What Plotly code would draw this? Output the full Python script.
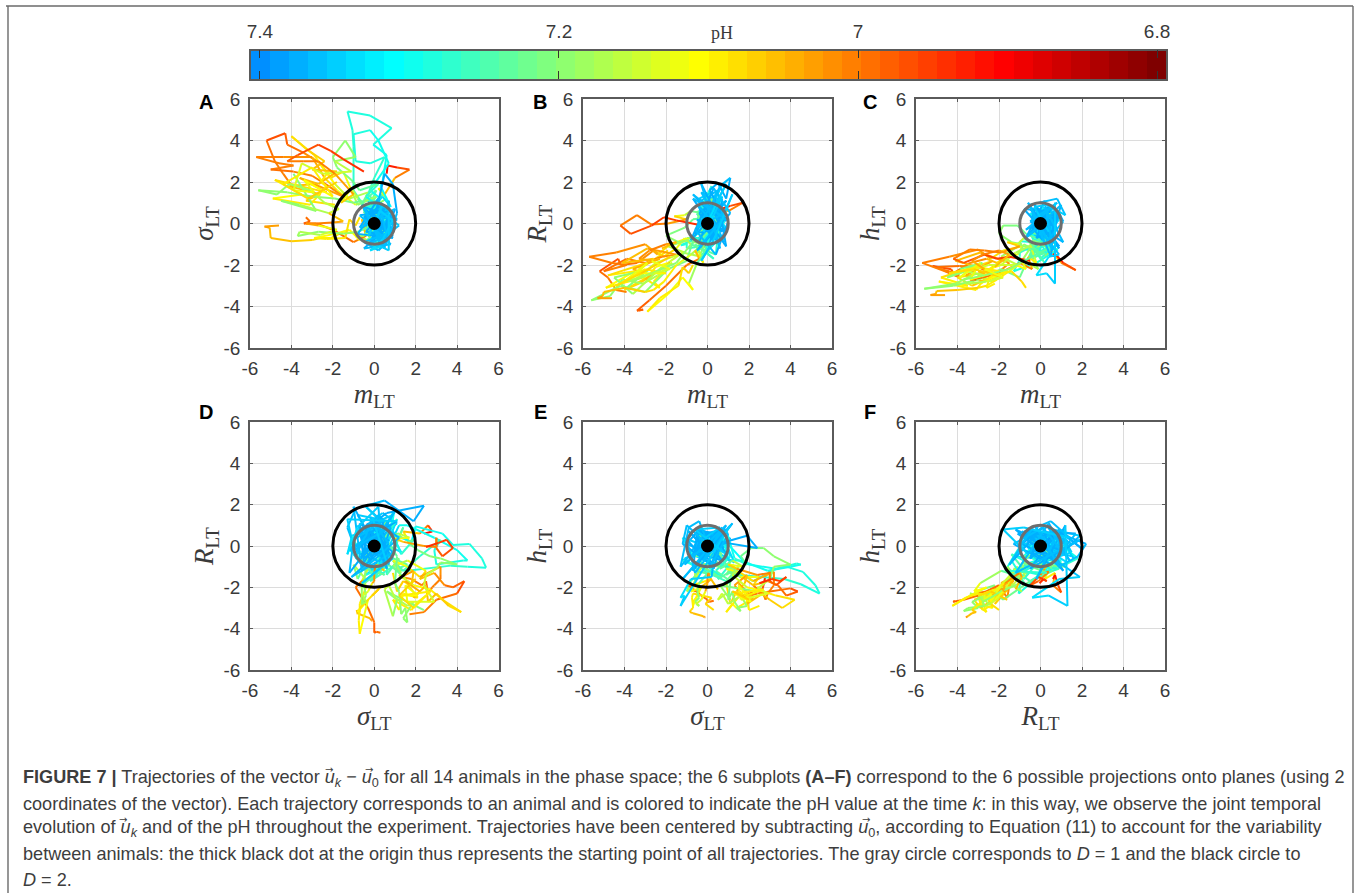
import plotly.graph_objects as go

# ---------- chart values ----------
# every row: m_LT, sigma_LT, R_LT, h_LT, pH
animal_01 = [(0,0,0,0,7.385),(.3,-.4,.5,.3,7.385),(-.2,.5,-.4,.6,7.38),(.5,.2,.8,-.2,7.38),(.9,-.6,.2,.4,7.37),(.2,-.9,-.6,.7,7.37),(.4,.3,-.3,-.5,7.37),(-.3,-.5,.3,.4,7.37),(.6,-.2,.5,-.7,7.37),(-.4,-.3,-1,.2,7.36),(.6,.6,1.2,.8,7.36),(.1,1.1,.4,-.5,7.33),(-.3,.7,-.8,-.9,7.3),(.4,1.4,.9,-1.1,7.27),(.1,.9,-.2,-1.4,7.24),(.6,1.2,.5,-.9,7.2),(.2,1.7,.2,-1.6,7.15),(.5,1.4,.7,-1.3,7.1),(1,2.2,.6,-1.9,7.05),(1.7,2.6,1,-2.25,7),(1.1,2.7,.85,-1.9,6.96),(.65,2.8,.7,-1.4,6.93),(.6,2.4,.6,-1.6,6.92)]
animal_02 = [(0,0,0,0,7.37),(.2,.6,.7,-.3,7.37),(-.3,1.1,1.1,.4,7.36),(.5,.4,1.6,-.6,7.36),(.1,-.5,.9,.5,7.35),(-.5,.3,.2,-.2,7.35),(.4,1.3,-.3,-.8,7.33),(.8,.8,.6,.3,7.33),(.3,1.8,.2,-.8,7.31),(.4,2,.95,-.9,7.31),(.6,3.3,.6,-1.1,7.3),(-.05,3.8,.05,-1,7.3),(.84,4.6,.1,-1.25,7.29),(-.2,5.2,-.6,-1.9,7.29),(-1.29,5.4,-1.05,-2.3,7.28),(-1.05,4.5,-1,-1.85,7.28),(-1,3.7,-.95,-1.6,7.27),(-1,1.6,-1.2,-1.4,7.27),(-.6,1,-1.15,-1.2,7.26),(.1,1.6,-.9,-1.5,7.25),(-.3,.7,-.5,-.9,7.24)]
animal_03 = [(0,0,0,0,7.36),(-.3,.5,.5,.4,7.36),(.4,-.3,1,.6,7.36),(-.1,.9,1.5,-.3,7.35),(.5,.7,.3,-.7,7.35),(.1,-.6,-.7,.1,7.35),(-.5,.1,-1.3,-.5,7.33),(.3,1.2,1,-.7,7.33),(-.2,1.6,1,-.7,7.3),(.7,2.9,.4,-1.2,7.3),(.2,4,-.2,-1,7.3),(-.2,4.5,-.7,-.9,7.3),(-1,4.3,-.7,-.85,7.29),(-.9,3,-.9,-1.2,7.29),(-.2,2.9,-.2,-1.35,7.28),(.5,3.2,.3,-1.2,7.28),(0,2.2,-.5,-1.7,7.27),(-.3,1.4,-1.2,-1.2,7.26),(.2,.9,-.7,-1.9,7.25)]
animal_04 = [(0,0,0,0,7.38),(.4,-.4,-.4,.5,7.38),(.7,.2,.6,-.2,7.37),(.1,.5,-.9,.7,7.37),(-.3,-.5,.4,.3,7.36),(.5,-.8,1,-.4,7.36),(.2,.7,-.2,-1,7.33),(-.5,.6,-1.4,-.4,7.28),(-.1,1.2,-.6,-1.4,7.25),(-.8,.9,-1,-1,7.21),(-1.1,1.6,-.7,-1.5,7.17),(-1.5,2.5,-1.2,-1.5,7.12),(-2.1,2.2,-1.6,-1.9,7.08),(-2.6,2.9,-1.3,-1.7,7.05),(-3.4,3.4,-1.9,-1.9,7.02),(-4.2,3.8,-2,-2.4,6.99),(-4.3,4.35,-1.7,-2.2,6.98),(-5.2,4,-2.3,-2.05,6.97),(-4.8,3,-2.6,-2.2,6.99),(-4.4,2.4,-3.2,-2.3,7),(-3.9,1.7,-3.3,-2.5,7.01)]
animal_05 = [(0,0,0,0,7.37),(.5,.4,.5,.6,7.37),(-.2,.8,-.6,.3,7.37),(.3,-.7,.2,-.5,7.36),(.8,-.2,-.9,.2,7.36),(-.4,-.2,.9,-.7,7.35),(.1,1,-.3,-1,7.3),(-.5,.5,-.8,-1.6,7.27),(.1,1.3,-1.3,-1.1,7.23),(-.9,.9,-.7,-1.1,7.18),(-1.8,1.6,-1,-1.3,7.12),(-2.4,2.2,-1.5,-1.7,7.08),(-3,3.2,-1,-1.25,7.04),(-4.4,3.2,-1.4,-1.6,7.02),(-5.7,3.2,-1.6,-1.9,7.01),(-4.6,2.9,-1.9,-2.3,7.01),(-3.9,2.8,-2,-2.6,7),(-5,2.6,-2.3,-2.1,7),(-3.9,2.5,-1.7,-2.05,6.99),(-3,2.3,-1.9,-2.1,7),(-2.2,1.8,-1.6,-2.5,7.01),(-1.5,1.3,-1.5,-1.9,7.02),(-2.9,1.9,-1.2,-1.4,7.03),(-4.1,1.8,-1.9,-1.8,7.05),(-2.6,1.4,-1.7,-2.2,7.06),(-3.3,1.1,-2.2,-2.8,7.07),(-1.9,.9,-1.3,-1.8,7.08)]
animal_06 = [(0,0,0,0,7.36),(-.2,-.6,.4,-.4,7.36),(.4,.3,1.3,.3,7.36),(.7,-.9,.7,-.6,7.35),(.1,.8,-.5,.6,7.35),(-.4,.4,-1.1,-.2,7.33),(.3,-.2,-1.7,-1.2,7.29),(-.6,.9,-1,-1.7,7.26),(-.3,1.5,-1.6,-1,7.22),(-1.2,1.2,-1.4,-1.4,7.17),(-1.9,1.9,-1.9,-2,7.14),(-2.5,2.7,-2.1,-2.2,7.11),(-2.9,3.3,-2.6,-2.4,7.09),(-4,4.2,-3.2,-2.6,7.08),(-3.3,3.6,-2.9,-3,7.08),(-2.4,3,-2.3,-2.6,7.07),(-3,2.6,-2.7,-2.3,7.06),(-1.8,2.5,-1.9,-2.4,7.05),(-2.7,1.9,-2.5,-2.8,7.05),(-3.6,2.2,-2.2,-2.5,7.06),(-2.3,1.5,-1.7,-1.8,7.04),(-4.8,2.1,-2.5,-2.6,7.08),(-3.5,1.4,-2.3,-3,7.1),(-4.9,1.2,-3.1,-2.8,7.11),(-3.1,.9,-2.6,-3.2,7.1),(-2.3,1.8,-3.1,-2.1,7.09),(-2.6,2,-2.8,-3.1,7.09),(-2.2,2.5,-2.4,-2.9,7.09)]
animal_07 = [(0,0,0,0,7.38),(.3,.5,-.6,.5,7.38),(-.3,-.4,-1.2,.8,7.37),(.6,-1,-.4,.1,7.37),(.2,.1,.9,-.4,7.36),(-.5,.7,.4,.5,7.35),(.2,1,1.8,-.6,7.3),(-.3,.4,.6,-1.2,7.27),(-.6,1.1,-.5,-1.7,7.24),(-1,1,-1.8,-2.6,7.22),(-1.9,1.2,-2.2,-2.2,7.21),(-3,1.3,-3.3,-2.7,7.2),(-4.2,1.5,-3,-3,7.2),(-5.6,1.6,-3.7,-3.15,7.19),(-4.7,1.4,-3.5,-3,7.19),(-4.1,1.9,-2.7,-2.9,7.2),(-3.1,1.6,-2.9,-2.4,7.18),(-2.4,1,-2.5,-2.8,7.17),(-1.7,.7,-1.9,-2.3,7.16),(-2.2,.5,-2.1,-2.6,7.15),(-3.6,.9,-3.4,-2.3,7.17),(-4.5,1.1,-2.6,-2.6,7.19),(-2.8,.6,-2.2,-1.9,7.2),(-3.9,2.4,-3.1,-2.2,7.21)]
animal_08 = [(0,0,0,0,7.37),(-.4,.3,-.8,.4,7.37),(.4,-.6,-.3,.8,7.37),(.8,.3,.3,-.3,7.36),(.3,.9,1,.2,7.36),(-.1,-1.1,.5,-.6,7.35),(.5,-.4,-.8,-1.2,7.29),(-.4,-.8,-1.6,-1.7,7.25),(-.1,-1,-.9,-2.2,7.2),(-.8,-.5,-1.5,-1.8,7.17),(-1.5,-.4,-2,-2.3,7.13),(-2.1,-.7,-2.8,-2.7,7.1),(-2.6,-.7,-3.2,-3,7.09),(-3,-.8,-3.3,-3.1,7.08),(-4,-.85,-3.1,-3.2,7.07),(-5,-.7,-3.3,-3.25,7.06),(-5.05,-.2,-3.5,-3.4,7.05),(-5.3,-.15,-3.6,-3.45,7.03),(-4.6,-.1,-3.6,-3.45,7.03)]
animal_09 = [(0,0,0,0,7.38),(.4,-.7,.5,-.5,7.38),(.9,-.3,1.1,.3,7.37),(.2,.6,.2,.7,7.37),(-.4,.2,-.7,.1,7.36),(.2,-1.2,-.2,-.7,7.35),(-.1,.5,-1.4,-1.4,7.28),(-.5,-.3,-1.1,-1,7.22),(-.2,-.7,-1.9,-1.9,7.15),(-.6,.2,-1.3,-1.6,7.1),(-.4,-.6,-1.7,-2.2,7.05),(-1,-.9,-2,-1.9,7),(-2,-.3,-3,-2.4,6.99),(-2.8,0,-3.7,-2.6,6.99),(-3.4,0,-4.2,-2.7,6.98),(-3.1,.1,-4.15,-2.7,6.98),(-3.3,.3,-4.2,-2.65,6.99)]
animal_10 = [(0,0,0,0,7.36),(.3,.3,.4,.6,7.36),(-.4,.7,1.2,.2,7.36),(.2,-.8,1.5,-.5,7.35),(.6,.4,-.7,.1,7.35),(-.1,-.4,-1.4,-.7,7.33),(.3,.7,-.9,-1.5,7.28),(-.5,-.6,-1.9,-1.2,7.24),(-.9,-.6,-2.9,-1.8,7.18),(-.7,-.8,-3.2,-2.2,7.12),(-1.2,-.3,-2.6,-2,7.11),(-1.9,-.5,-3.4,-2.4,7.12),(-2.9,-.7,-4.25,-2.9,7.11),(-2.3,-.75,-3.6,-2.5,7.1),(-1.4,-.7,-3,-2.3,7.09),(-1.2,.2,-2.1,-2.5,7.08),(-.9,-.1,-2.4,-2.8,7.07),(-.7,.3,-2,-3.1,7.08)]
animal_11 = [(0,0,0,0,7.37),(-.3,-.5,.6,.3,7.37),(.3,.6,1,-.4,7.36),(.7,-.4,1.9,.5,7.36),(.1,.9,.6,.8,7.35),(-.4,1.3,-.4,-.6,7.3),(.2,1.9,.3,-.9,7.27),(-.7,1.6,.2,-.5,7.24),(-1.1,2.1,-.2,-.1,7.22),(-1.8,2.7,-.5,-.1,7.21),(-2,3.2,-.6,-.5,7.2),(-1.4,4,-.9,-.9,7.19),(-.9,3.2,-.8,-1,7.19),(-1.9,3,-1.1,-1.6,7.18),(-1.1,2.5,-1.4,-2,7.16),(-2.5,2.4,-1.9,-2,7.15),(-3.5,2.9,-2.7,-2.3,7.14),(-3.9,1.6,-2.7,-2.6,7.13),(-2.9,1.5,-1.9,-1.9,7.12),(-3.4,2.1,-2.4,-2.7,7.12),(-2,1.3,-2.4,-2.3,7.11),(-3,2.7,-2.2,-2.1,7.1),(-4.4,1.9,-3,-2.4,7.09),(-3.2,1.2,-2.4,-2.2,7.08),(-1.8,2,-1.6,-2.6,7.07)]
animal_12 = [(0,0,0,0,7.38),(.6,.2,.3,-.5,7.38),(.2,-.7,-.8,.5,7.37),(-.4,-.2,.8,.7,7.37),(.9,.5,-.3,.2,7.36),(.1,1.1,1.3,-.8,7.33),(-.3,.6,.5,-1.1,7.27),(-.8,1.2,.6,-.7,7.22),(-1.1,1.7,.4,-1,7.16),(-1.6,1,.35,-.9,7.12),(-1,1.4,.2,-1.1,7.07),(-1.9,2.4,0,-1.4,7.03),(-2.7,3,-.05,-1.3,7.01),(-3.4,3,.4,-1.25,7),(-4.2,3,-.1,-1.7,7),(-3.7,3.3,-.5,-1.9,6.98),(-2.7,3.8,-.1,-1.5,6.96),(-2.1,3.5,.3,-1.7,6.95),(-1.5,3.1,.15,-1.6,6.95),(-.5,2.5,-.05,-1.8,6.94)]
animal_13 = [(0,0,0,0,7.37),(.2,-.5,.6,.6,7.37),(-.3,.2,1.5,.1,7.36),(.6,.8,.9,-.3,7.36),(.3,-1.2,-.1,.4,7.35),(-.2,-.7,-.8,-.5,7.3),(-.5,.7,.6,-.4,7.22),(.5,-.4,-.7,.5,7.22),(.2,.6,1.2,-1,7.23),(-.4,-.6,-.9,-.8,7.21),(.6,.3,.3,-1.3,7.22),(.4,.1,-1.5,-1.2,7.27),(-.8,-.4,-1,-1.8,7.23),(-1.5,-.5,-1.9,-2.2,7.2),(-2.7,-.4,-2.4,-2.5,7.2),(-3.7,-.6,-2.8,-2.7,7.19),(-3.6,-.4,-2.7,-2.9,7.18),(-2.6,-.55,-2.4,-2.8,7.17),(-1.8,-.3,-2.2,-2.6,7.15),(-2.7,-.1,-1.8,-2.2,7.12),(-3.3,0,-1.7,-1.8,7.04),(-2.8,0,-1.3,-1.5,7.02),(-2,.05,-1,-1.3,7.01),(-1.5,.1,-.9,-1.5,7.03),(-2.2,.5,-1.2,-2.1,7.05)]
animal_14 = [(0,0,0,0,7.385),(.5,-.3,.9,.7,7.385),(.1,.6,1.6,.2,7.38),(.5,2.4,1.95,-.1,7.37),(.9,1.9,1.2,.5,7.37),(1.1,.5,2.2,.1,7.37),(.6,-.9,1.8,-.5,7.36),(.2,-1.3,.9,-1,7.36),(-.5,-.9,-.2,.9,7.36),(.8,-.4,.5,1.2,7.36),(1.2,-.1,1.4,.4,7.36),(.3,.6,-.8,.9,7.35),(-.3,-.6,-1.8,.8,7.35),(.4,.9,-.6,-.4,7.35),(-.5,.3,.2,.7,7.37),(.3,-.2,-.7,.5,7.38),(-.1,-.7,.6,-.4,7.38),(.6,.5,-.2,.3,7.38),(-.6,-.2,-.5,-.6,7.37),(.2,.4,.8,.5,7.38),(.7,-.6,-.4,-.3,7.37),(-.2,.7,.3,-.7,7.37),(.4,-.5,-.6,.8,7.38),(-.4,-.4,.5,-.2,7.38),(.1,.2,.9,-.8,7.37),(.5,.7,-.9,.1,7.37),(-.3,.5,.1,.9,7.38),(.6,-.1,.6,-.6,7.38),(.9,.6,-1.1,.6,7.37),(-.7,.4,1.2,-.3,7.37),(.8,-1,.3,1,7.36),(-.5,-1.2,-1.3,.1,7.36),(1.1,.2,.5,-.9,7.37),(.3,1,1.7,.6,7.36),(-.8,-.5,-.8,.7,7.37),(.9,-.7,1.1,-1.2,7.37),(-.6,.9,-.3,1,7.37),(.4,-1.1,-1.5,-.9,7.36),(1,.7,.1,.9,7.37),(-.7,-.2,1.4,-.7,7.36),(.2,1.2,.4,1.1,7.37),(.6,-.6,-1.2,-1.3,7.36),(-.3,-1,1.9,.3,7.36),(.9,.3,-.5,-1.1,7.37),(-.5,.8,.9,.8,7.37),(.5,-1.2,-.2,-1.6,7.36),(.7,1.1,1.2,1,7.37),(.7,-1.3,1.3,-2.9,7.35),(.3,-1.1,.4,-2.4,7.35),(-.2,-1.3,-.4,-2.5,7.33),(.4,-.8,.9,-1.6,7.33),(.9,.2,1.9,-1.5,7.35),(.2,.3,.6,-.6,7.36),(-.4,.5,-.9,.5,7.37)]

ANIMALS = [animal_01, animal_02, animal_03, animal_04, animal_05, animal_06, animal_07,
           animal_08, animal_09, animal_10, animal_11, animal_12, animal_13, animal_14]

COORDS = {"m": 0, "s": 1, "R": 2, "h": 3}
PANEL_PAIRS = [("m", "s"), ("m", "R"), ("m", "h"), ("s", "R"), ("s", "h"), ("R", "h")]
PANEL_LETTERS = ["A", "B", "C", "D", "E", "F"]
AXIS_LABELS = {"m": "<i>m</i><sub>LT</sub>", "s": "<i>σ</i><sub>LT</sub>",
               "R": "<i>R</i><sub>LT</sub>", "h": "<i>h</i><sub>LT</sub>"}
TICKS = [-6, -4, -2, 0, 2, 4, 6]
CIRCLE_RADII = [1, 2]
CIRCLE_COLORS = ["#6e6e6e", "#000000"]
PH_TICKS = [7.4, 7.2, 7.0, 6.8]
PH_TICK_TEXT = ["7.4", "7.2", "7", "6.8"]
PH_MAX, PH_MIN = 7.406, 6.794
N_COLORS = 48

CAPTION = [
    "<b>FIGURE 7 |</b> Trajectories of the vector <i>u</i><sub><i>k</i></sub> − <i>u</i><sub>0</sub> for all 14 animals in the phase space; the 6 subplots <b>(A–F)</b> correspond to the 6 possible projections onto planes (using 2",
    "coordinates of the vector). Each trajectory corresponds to an animal and is colored to indicate the pH value at the time <i>k</i>: in this way, we observe the joint temporal",
    "evolution of <i>u</i><sub><i>k</i></sub> and of the pH throughout the experiment. Trajectories have been centered by subtracting <i>u</i><sub>0</sub>, according to Equation (11) to account for the variability",
    "between animals: the thick black dot at the origin thus represents the starting point of all trajectories. The gray circle corresponds to <i>D</i> = 1 and the black circle to",
    "<i>D</i> = 2.",
]
CAPTION_Y = [778.5, 803.5, 828.5, 853.5, 879.5]
VECTOR_ARROWS_PX = [(329, 769), (369, 769), (123, 819), (866, 819)]

# ---------- layout in pixels ----------
W, H = 1360, 893
PANEL_X = [(250, 498.5), (583, 832), (916, 1165)]
PANEL_Y = [(99, 348), (422, 670)]
INK, FRAME, GRID = "#3a3a3a", "#5a5a5a", "#dcdcdc"


def jet(i):
    """MATLAB jet(64) level i (1-based)."""
    v = i / 64
    c = lambda t: max(0.0, min(1.0, t))
    return "rgb(%d,%d,%d)" % (255 * c(1.5 - abs(4 * v - 3)), 255 * c(1.5 - abs(4 * v - 2)), 255 * c(1.5 - abs(4 * v - 1)))


COLORS = [jet(i) for i in range(17, 65)]


def bin_of(ph):
    return max(0, min(N_COLORS - 1, int((PH_MAX - ph) / (PH_MAX - PH_MIN) * N_COLORS)))


fig = go.Figure()
layout = dict(width=W, height=H, margin=dict(l=0, r=0, t=0, b=0, pad=0, autoexpand=False), autosize=False,
              paper_bgcolor="white", plot_bgcolor="white", showlegend=False,
              font=dict(family="Liberation Sans", color=INK))
annotations, shapes = [], []

for p, (xk, yk) in enumerate(PANEL_PAIRS):
    n = p + 1
    col, row = p % 3, p // 3
    (x0, x1), (y0, y1) = PANEL_X[col], PANEL_Y[row]
    common = dict(range=[-6, 6], tickvals=TICKS, ticktext=[str(t) for t in TICKS], ticks="inside", ticklen=3,
                  tickcolor=FRAME, tickwidth=1, showline=True, linecolor=FRAME, linewidth=1.6, mirror="ticks",
                  showgrid=True, gridcolor=GRID, gridwidth=1, zeroline=False,
                  tickfont=dict(family="Liberation Sans", size=19, color=INK))
    layout[f"xaxis{n}"] = dict(common, domain=[x0 / W, x1 / W], anchor=f"y{n}", ticklabelstandoff=2,
                               title=dict(text=AXIS_LABELS[xk], standoff=4, font=dict(family="Liberation Serif", size=27, color=INK)))
    layout[f"yaxis{n}"] = dict(common, domain=[1 - y1 / H, 1 - y0 / H], anchor=f"x{n}", ticklabelstandoff=4,
                               title=dict(text=AXIS_LABELS[yk], standoff=2, font=dict(family="Liberation Serif", size=27, color=INK)))
    ix, iy = COORDS[xk], COORDS[yk]
    for animal in ANIMALS:
        groups = {}
        for a, b in zip(animal[:-1], animal[1:]):
            groups.setdefault(bin_of(b[4]), []).append((a, b))
        for k, segs in groups.items():
            xs, ys = [], []
            for a, b in segs:
                xs += [a[ix], b[ix], None]
                ys += [a[iy], b[iy], None]
            fig.add_trace(go.Scatter(x=xs, y=ys, mode="lines", xaxis=f"x{n}", yaxis=f"y{n}", hoverinfo="skip",
                                     line=dict(color=COLORS[k], width=2)))
    for r, c in zip(CIRCLE_RADII, CIRCLE_COLORS):
        shapes.append(dict(type="circle", xref=f"x{n}", yref=f"y{n}", x0=-r, x1=r, y0=-r, y1=r,
                           line=dict(color=c, width=3), layer="above"))
    fig.add_trace(go.Scatter(x=[0], y=[0], mode="markers", xaxis=f"x{n}", yaxis=f"y{n}", hoverinfo="skip",
                             marker=dict(color="black", size=13, line=dict(width=0))))
    annotations.append(dict(text=PANEL_LETTERS[p], xref="paper", yref="paper", x=[206, 540, 870][col] / W,
                            y=1 - [102, 412][row] / H, showarrow=False, xanchor="center", yanchor="middle",
                            font=dict(family="Liberation Sans", size=20, color="black", weight="bold")))

# colour bar
edges = [PH_MAX + (PH_MIN - PH_MAX) * i / N_COLORS for i in range(N_COLORS + 1)]
centers = [(a + b) / 2 for a, b in zip(edges[:-1], edges[1:])]
fig.add_trace(go.Heatmap(x=edges, y=[0, 1], z=[centers], zmin=PH_MIN, zmax=PH_MAX, showscale=False, hoverinfo="skip",
                         colorscale=[[(N_COLORS - 1 - i + j) / N_COLORS, COLORS[i]] for i in range(N_COLORS - 1, -1, -1) for j in (0, 1)],
                         xaxis="x7", yaxis="y7"))
layout["xaxis7"] = dict(domain=[251 / W, 1166 / W], anchor="y7", range=[PH_MAX, PH_MIN], side="top", tickvals=PH_TICKS,
                        ticktext=PH_TICK_TEXT, ticks="inside", ticklen=8, tickcolor="#333333", showline=True, linecolor=FRAME,
                        linewidth=1.5, mirror="ticks", showgrid=False, zeroline=False, ticklabelstandoff=3,
                        tickfont=dict(family="Liberation Sans", size=19, color=INK))
layout["yaxis7"] = dict(domain=[1 - 79 / H, 1 - 50.5 / H], anchor="x7", range=[0, 1], showticklabels=False, ticks="",
                        showline=True, linecolor=FRAME, linewidth=1.5, mirror=True, showgrid=False, zeroline=False)
annotations.append(dict(text="pH", xref="paper", yref="paper", x=722 / W, y=1 - 33 / H, showarrow=False,
                        xanchor="center", yanchor="middle", font=dict(family="Liberation Serif", size=18, color=INK)))

# caption
for txt, y in zip(CAPTION, CAPTION_Y):
    annotations.append(dict(text=txt, xref="paper", yref="paper", x=21 / W, y=1 - y / H, showarrow=False, xanchor="left",
                            yanchor="middle", align="left", font=dict(family="Liberation Sans", size=18.1, color="#3d3d3d")))
for ax_px, ay_px in VECTOR_ARROWS_PX:
    annotations.append(dict(text="→", xref="paper", yref="paper", x=ax_px / W, y=1 - ay_px / H, showarrow=False,
                            xanchor="center", yanchor="middle", font=dict(family="DejaVu Sans", size=10, color="#3d3d3d")))

# page frame
for x_a, y_a, x_b, y_b in [(6, 6, 1353, 6), (8, 6, 8, 893), (1353, 6, 1353, 893)]:
    shapes.append(dict(type="line", xref="paper", yref="paper", x0=x_a / W, x1=x_b / W, y0=1 - y_a / H, y1=1 - y_b / H,
                       line=dict(color="#6a6a6a", width=1.4)))

fig.update_layout(**layout, annotations=annotations, shapes=shapes)
fig.write_html("out.html", config={"responsive": False, "displayModeBar": False},
               post_script="document.body.style.margin='0';document.body.style.overflow='hidden';")
